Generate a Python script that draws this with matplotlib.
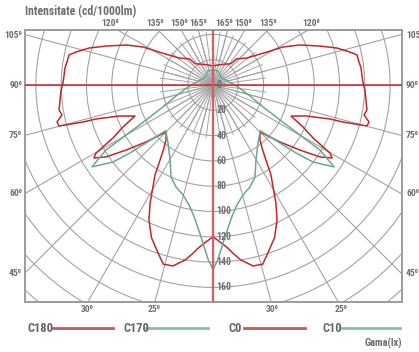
import numpy as np
import matplotlib
matplotlib.use("Agg")
import matplotlib.pyplot as plt
from matplotlib.patches import Circle
from matplotlib.lines import Line2D
from matplotlib import font_manager

# gamma angle (deg from nadir) and intensity (cd/1000lm)
GammaC0 = [0, 3, 5, 7, 9, 12.5, 15.5, 18, 22, 25.4, 28, 30.5, 32.8, 35.2, 37.6,
           40.5, 45, 49.6, 53.2, 56.1, 58.5, 59.8, 62.1, 65, 68.3, 71.6, 73.8,
           74.1, 75.1, 76.7, 78.8, 80.8, 84.4, 88, 90.8, 93.8, 96.6, 99, 101.8,
           103.5, 106.6, 110, 114.7, 118.5, 121.4, 128.5, 134, 138, 140, 150,
           165, 180]
IntensityC0 = [120, 125, 129, 134.5, 140, 146.5, 147, 140, 130, 118, 106, 93.5,
               84.6, 72.6, 64, 57.2, 52.5, 69.5, 85.9, 102, 110.4, 107, 89.5,
               78.5, 66.4, 77.5, 96.3, 106.8, 126, 126.7, 121.7, 123.3, 121.5,
               120.2, 118.6, 118, 117.8, 116.8, 116.3, 111.4, 102.3, 90, 75.7,
               63, 50, 34.3, 30, 28, 22, 19, 16.5, 15]
# C180 reads the same as C0
GammaC180 = list(GammaC0)
IntensityC180 = list(IntensityC0)

GammaC10 = [0, 1.6, 4.5, 8.2, 11.3, 15.3, 19.9, 24.5, 29.8, 37.8, 46, 49.1,
            50.7, 52.4, 55.9, 56.5, 58.7, 60.1, 62.4, 66.3, 73.4, 85.4, 100.6,
            135, 159, 180]
IntensityC10 = [146, 138, 120.5, 105, 96.7, 90, 85.8, 80, 68.3, 58, 52, 70,
                84.8, 99.8, 115.5, 111.8, 99, 79.3, 59.8, 43.2, 30.5, 19.8, 12.9,
                8.9, 11.7, 11.9]
# C170 reads the same as C10
GammaC170 = list(GammaC10)
IntensityC170 = list(IntensityC10)

RadialTicks = [0, 20, 40, 60, 80, 100, 120, 140, 160]

RED = "#c1272d"
GREEN = "#6aa98b"
GRID = "#a3a3a3"
TEXT = "#6e6e6e"

W, H = 419, 352

# pick a narrow family if one is there
names = {f.name for f in font_manager.fontManager.ttflist}
FONT = [n for n in ["Roboto Condensed", "Liberation Sans Narrow", "Roboto"] if n in names]
FONT += ["DejaVu Sans"]


def px(x, y):
    return x / W, 1 - y / H


def to_xy(gamma, intensity, side):
    g = np.radians(np.asarray(gamma, dtype=float))
    r = np.asarray(intensity, dtype=float)
    return side * r * np.sin(g), -r * np.cos(g)


def main():
    fig = plt.figure(figsize=(W / 100, H / 100), dpi=100)
    fig.patch.set_facecolor("white")
    # frame from x=25..402 px, y=30..302 px; centre at (213, 85); 20 units = 25.3 px
    ax = fig.add_axes([25 / W, (H - 302) / H, 377 / W, 272 / H])
    scale = 1.265
    ax.set_xlim(-188 / scale, 189 / scale)
    ax.set_ylim(-217 / scale, 55 / scale)
    ax.set_aspect("equal")
    ax.set_xticks([])
    ax.set_yticks([])
    for s in ax.spines.values():
        s.set_color("#9c9c9c")
        s.set_linewidth(1.4)

    # circles
    for r in range(20, 300, 20):
        ax.add_patch(Circle((0, 0), r, fill=False, color=GRID, lw=0.8, zorder=1))
    # main spokes every 15 deg
    for a in range(0, 181, 15):
        t = np.radians(a)
        for side in (1, -1):
            ax.plot([0, side * 300 * np.sin(t)], [0, -300 * np.cos(t)],
                    color=GRID, lw=0.8, zorder=1)
    # short spokes near centre
    for a in np.arange(0, 360, 7.5):
        t = np.radians(a)
        ax.plot([0, 42 * np.sin(t)], [0, 42 * np.cos(t)], color=GRID, lw=0.7, zorder=1)

    # curves
    for g, i, side, col in [(GammaC0, IntensityC0, 1, RED),
                            (GammaC180, IntensityC180, -1, RED),
                            (GammaC10, IntensityC10, 1, GREEN),
                            (GammaC170, IntensityC170, -1, GREEN)]:
        x, y = to_xy(g, i, side)
        ax.plot(x, y, color=col, lw=1.1, zorder=3, solid_joinstyle="round")

    # axis lines
    ax.axhline(0, color=RED, lw=1.1, zorder=4)
    ax.axvline(0, color="#cf6068", lw=1.6, zorder=5)

    for r in RadialTicks:
        ax.text(2.5, -r, str(r), color=TEXT, fontsize=7, fontweight="bold",
                family=FONT, ha="left", va="center", zorder=6)

    # degree labels
    def deg(x, y, s, ha="center"):
        fig.text(*px(x, y), s, color=TEXT, fontsize=6.8, fontweight="bold",
                 family=FONT, ha=ha, va="center")

    for s, y in [("105⁰", 35), ("90⁰", 85), ("75⁰", 135), ("60⁰", 193), ("45⁰", 273)]:
        deg(22, y, s, ha="right")
        deg(406, y, s, ha="left")
    for s, x in [("120⁰", 110), ("135⁰", 155), ("150⁰", 179), ("165⁰", 198),
                 ("165⁰", 224), ("150⁰", 243), ("135⁰", 268), ("120⁰", 311)]:
        deg(x, 23, s)
    for s, x in [("30⁰", 87), ("25⁰", 154), ("30⁰", 272), ("25⁰", 341)]:
        deg(x, 310, s)

    fig.text(*px(25, 12), "Intensitate (cd/1000lm)", color=TEXT, fontsize=8.5,
             fontweight="bold", family=FONT, ha="left", va="center")
    fig.text(*px(402, 343), "Gama(lx)", color=TEXT, fontsize=7.5,
             fontweight="bold", family=FONT, ha="right", va="center")

    # legend row
    legend = [("C180", 27, 52, 113, "#c9585d"), ("C170", 123, 146, 208, "#8cbea4"),
              ("C0", 228, 244, 305, "#c9585d"), ("C10", 322, 340, 400, "#8cbea4")]
    for label, xt, x0, x1, col in legend:
        fig.text(*px(xt, 328), label, color="#666666", fontsize=9,
                 fontweight="bold", family=FONT, ha="left", va="center")
        fig.add_artist(Line2D([x0 / W, x1 / W], [1 - 328 / H, 1 - 328 / H],
                              color=col, lw=2, transform=fig.transFigure))

    fig.savefig("out.png", dpi=100)


if __name__ == "__main__":
    main()
